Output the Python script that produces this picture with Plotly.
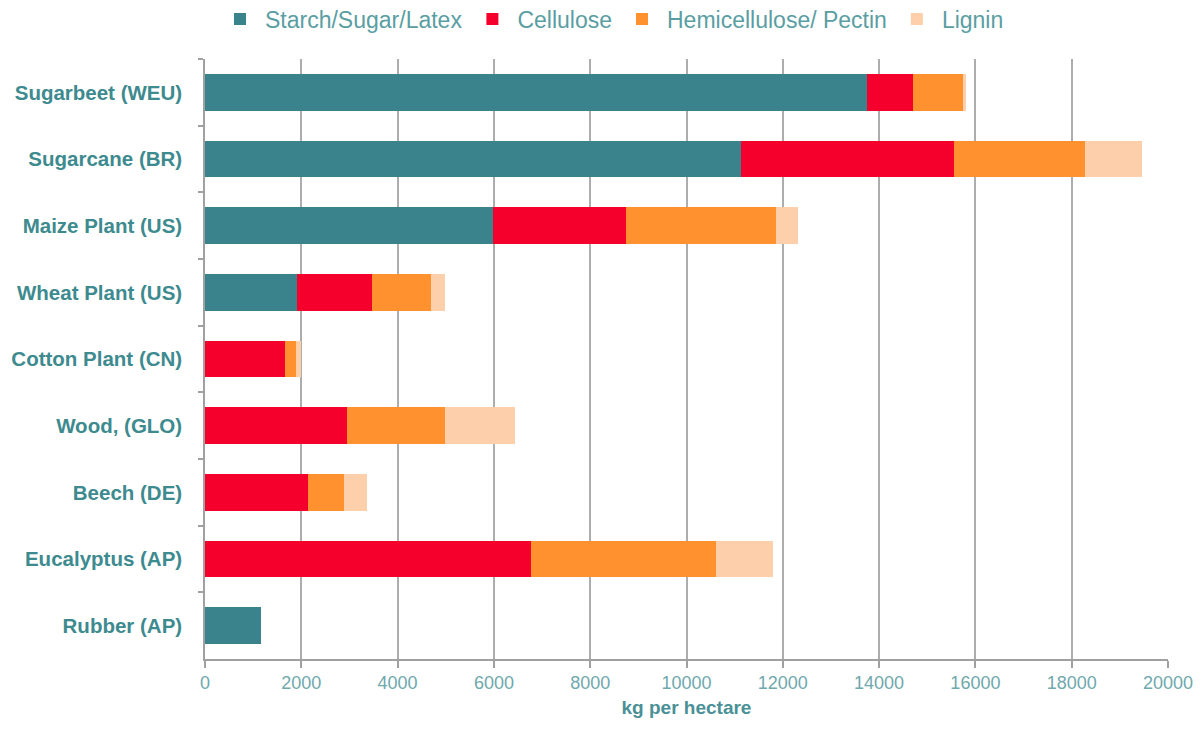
import plotly.graph_objects as go

categories = ["Sugarbeet (WEU)", "Sugarcane (BR)", "Maize Plant (US)", "Wheat Plant (US)",
              "Cotton Plant (CN)", "Wood, (GLO)", "Beech (DE)", "Eucalyptus (AP)", "Rubber (AP)"]
starch = [13750, 11140, 5980, 1920, 0, 0, 0, 0, 1160]
cellulose = [960, 4410, 2765, 1550, 1660, 2946, 2143, 6780, 0]
hemicellulose = [1030, 2735, 3115, 1230, 220, 2046, 747, 3830, 0]
lignin = [70, 1175, 460, 280, 110, 1438, 484, 1190, 0]

series_names = ["Starch/Sugar/Latex", "Cellulose", "Hemicellulose/ Pectin", "Lignin"]
series_values = [starch, cellulose, hemicellulose, lignin]
colors = ["#3b838c", "#f5002d", "#ff922e", "#fdd0ab"]

x_ticks = [0, 2000, 4000, 6000, 8000, 10000, 12000, 14000, 16000, 18000, 20000]

FONT = "Liberation Sans, Arial, sans-serif"

fig = go.Figure()
for name, vals, col in zip(series_names, series_values, colors):
    fig.add_trace(go.Bar(y=categories, x=vals, name=name, orientation="h",
                         marker=dict(color=col, line=dict(width=0))))

W, H = 1186, 722
fig.update_layout(
    barmode="stack",
    bargap=0.45,
    width=W, height=H,
    paper_bgcolor="white", plot_bgcolor="white",
    margin=dict(l=197, r=26, t=51, b=71, autoexpand=False),
    font=dict(family=FONT, color="#5a9ea3"),
    legend=dict(orientation="h", xref="container", yref="container",
                x=(612 - 8) / W, xanchor="center", y=1 - 11 / H, yanchor="middle",
                font=dict(size=23, color="#5a9ea3", family=FONT),
                itemwidth=40, traceorder="normal"),
    xaxis=dict(range=[0, 20000], tickvals=x_ticks, ticktext=[str(v) for v in x_ticks],
               automargin=False, ticklabeloverflow="allow",
               showgrid=True, gridcolor="#adadad", gridwidth=1.5,
               showline=True, linecolor="#a0a0a0", linewidth=1.5,
               ticks="outside", ticklen=7, tickcolor="#a0a0a0", tickwidth=1.5,
               tickfont=dict(size=18, color="#6fa8ad", family=FONT),
               title=dict(text="<b>kg per hectare</b>", font=dict(size=19, color="#4a9096",
                          family=FONT), standoff=8),
               zeroline=False),
    yaxis=dict(autorange="reversed", automargin=False,
               showline=True, linecolor="#a0a0a0", linewidth=1.5,
               ticks="outside", ticklen=5, tickcolor="#a0a0a0", tickwidth=1.5,
               tickson="boundaries", showgrid=False,
               tickfont=dict(size=20.5, color="#3d8a8f", weight="bold", family=FONT),
               ticklabelstandoff=17),
)

fig.write_html("out.html")
